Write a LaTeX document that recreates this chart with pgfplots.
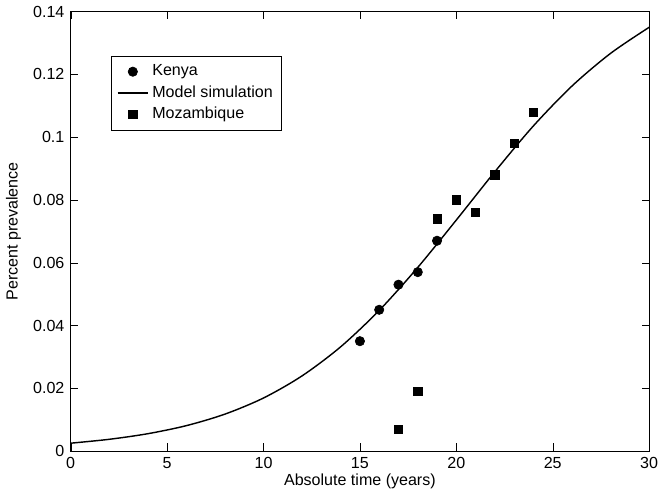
\documentclass[border=0pt]{standalone}
\usepackage{pgfplots}
\pgfplotsset{compat=1.18}
\usepackage{fontspec}
\setmainfont{Liberation Sans}
\begin{document}
\begin{tikzpicture}
\begin{axis}[scale only axis,width=11.4cm,height=8.66cm,
xmin=0,xmax=30,ymin=0,ymax=0.14,
xtick={0,5,...,30},ytick={0,0.02,...,0.14},
yticklabel style={/pgf/number format/fixed,/pgf/number format/precision=2},
/pgf/number format/assume math mode=true,
tick align=inside,tick style={black},
xlabel={Absolute time (years)},ylabel={Percent prevalence},
label style={font=\small},tick label style={font=\small},
xlabel style={yshift=4pt},
legend style={at={(0.07,0.9)},anchor=north west,font=\small,draw=black,cells={anchor=west},inner sep=3pt,row sep=0pt},
]
\addplot[only marks,mark=*,mark size=2.6pt] coordinates {(15,0.035)(16,0.045)(17,0.053)(18,0.057)(19,0.067)};
\addlegendentry{Kenya}
\addplot[black,thick,smooth,no marks] coordinates {(0,0.0025)(2,0.00374)(4,0.00552)(6,0.00809)(8,0.01176)(10,0.0169)(12,0.02395)(14,0.0332)(16,0.0448)(18,0.0585)(20,0.0736)(22,0.0890)(24,0.1036)(26,0.1163)(28,0.1267)(30,0.135)};
\addlegendentry{Model simulation}
\addplot[only marks,mark=square*,mark size=2.3pt] coordinates {(17,0.007)(18,0.019)(19,0.074)(20,0.080)(21,0.076)(22,0.088)(23,0.098)(24,0.108)};
\addlegendentry{Mozambique}
\end{axis}
\end{tikzpicture}
\end{document}
